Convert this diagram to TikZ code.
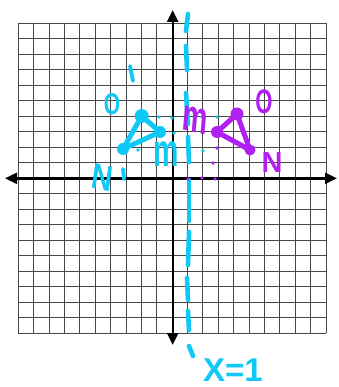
\documentclass[tikz,border=0pt]{standalone}
\usepackage{fontspec}
\setmainfont{Liberation Sans}
\usetikzlibrary{arrows.meta}
\definecolor{cy}{RGB}{16,200,245}
\definecolor{pu}{RGB}{176,32,240}
\begin{document}
\begin{tikzpicture}[x=1pt,y=-1pt,
  gridline/.style={draw=black!72,line width=0.9pt},
  axis/.style={line width=2.4pt,{Triangle[length=12pt,width=11pt]}-{Triangle[length=12pt,width=11pt]}},
  dsh/.style={draw=cy,line width=4.6pt,line cap=round},
  tri/.style={line width=5pt,line join=round},
  prm/.style={line width=3.8pt,line cap=round},
  lbl/.style={inner sep=0pt,font=\bfseries},
  dotc/.style={fill=cy,draw=none},
  dotp/.style={fill=pu,draw=none}]
\useasboundingbox (0,0) rectangle (338,387);
% grid
\foreach \i in {0,...,20} {
  \draw[gridline] ({18.3+\i*15.385},23.3) -- ({18.3+\i*15.385},333.3);
  \draw[gridline] (18.3,{23.3+\i*15.5}) -- (326,{23.3+\i*15.5});
}
% axes
\coordinate (xl) at (5,178.3);
\coordinate (xr) at (337,178.3);
\coordinate (yt) at (172.7,10);
\coordinate (yb) at (172.7,345);
\draw[axis] (xl) -- (xr);
\draw[axis] (yt) -- (yb);
% dashed line x=1
\draw[dsh] (188,14) -- (186,31);
\draw[dsh] (186,46) -- (187,70);
\draw[dsh] (186,93) -- (188,124);
\draw[dsh] (188,137) -- (189,162);
\draw[dsh] (189,180) -- (189,221);
\draw[dsh] (189,232) -- (188,265);
\draw[dsh] (187,278) -- (188,300);
\draw[dsh] (188,311) -- (189,330);
\draw[dsh] (189,346) -- (193,356);
% small dots
\foreach \p in {(159,117),(172,118),(174,133),(138,150),(202,117),(217,117),(203,151)}
  \fill[dotc] \p circle (1.8);
\foreach \p in {(213,163),(217,148),(188,179),(202,178),(215,179)}
  \fill[dotp] \p circle (1.8);
% cyan triangle (image)
\coordinate (Oc) at (141.7,116);
\coordinate (Mc) at (160,132);
\coordinate (Nc) at (123,149);
\draw[cy,tri] (Oc) -- (Mc) -- (Nc) -- cycle;
\fill[cy] (Oc) circle (7);
\fill[cy] (Mc) circle (6);
\fill[cy] (Nc) circle (6);
% purple triangle (pre-image)
\coordinate (Op) at (237,114);
\coordinate (Mp) at (217,132);
\coordinate (Np) at (250,150);
\draw[pu,tri] (Op) -- (Mp) -- (Np) -- cycle;
\fill[pu] (Op) circle (6.5);
\fill[pu] (Mp) circle (6);
\fill[pu] (Np) circle (5.5);
% labels
\node[lbl,cy,font=\bfseries\fontsize{30}{30}\selectfont,xscale=0.7] (lOc) at (112,104) {O};
\draw[cy,prm] (130,66) -- (133,81);
\node[lbl,cy,font=\bfseries\fontsize{36}{36}\selectfont,xscale=0.8,rotate=-10] (lNc) at (102,178) {N};
\draw[cy,prm] (123,169) -- (124,179);
\node[lbl,cy,font=\bfseries\fontsize{46}{46}\selectfont,xscale=0.62] (lMc) at (166,154) {m};
\node[lbl,pu,font=\bfseries\fontsize{46}{46}\selectfont,xscale=0.62,rotate=-8] (lMp) at (195,120) {m};
\node[lbl,pu,font=\bfseries\fontsize{34}{34}\selectfont,xscale=0.65] (lOp) at (264,102) {O};
\node[lbl,pu,font=\bfseries\fontsize{29}{29}\selectfont] (lNp) at (272,163) {N};
\node[lbl,cy,font=\bfseries\fontsize{33}{33}\selectfont] (lx) at (233,370) {X=1};
\end{tikzpicture}
\end{document}
